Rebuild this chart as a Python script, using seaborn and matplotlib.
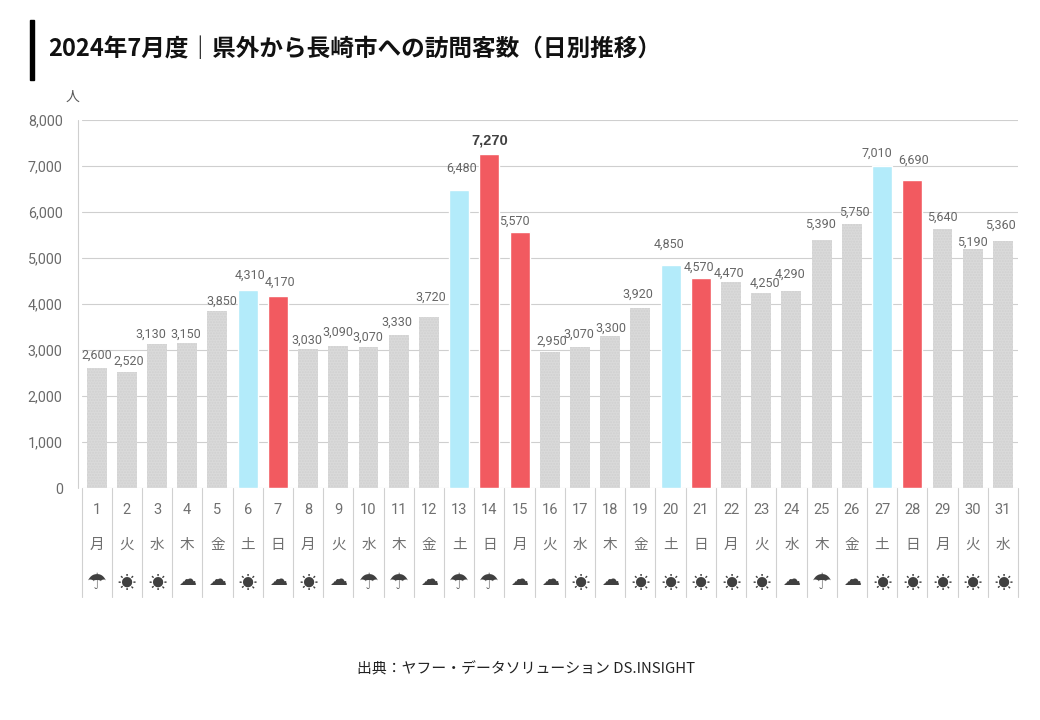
import matplotlib
matplotlib.use("Agg")
import matplotlib.pyplot as plt
import pandas as pd
import seaborn as sns

days = list(range(1, 32))
visitors = [2600, 2520, 3130, 3150, 3850, 4310, 4170, 3030, 3090, 3070, 3330, 3720, 6480, 7270, 5570, 2950,
            3070, 3300, 3920, 4850, 4570, 4470, 4250, 4290, 5390, 5750, 7010, 6690, 5640, 5190, 5360]
weekdays = ["月", "火", "水", "木", "金", "土", "日"] * 4 + ["月", "火", "水"]
# r = rain, s = sun, c = cloud
weather = list("rsscc" "scscr" "rcrrc" "csc" "sss" "sscrcs" "ssss")
day_type = ["土" if w == "土" else "日" if w == "日" else "平日" for w in weekdays]
day_type[14] = "日"  # 海の日

palette = {"平日": "#dadada", "土": "#b3ebfa", "日": "#f25a60"}
icons = {"r": "☂", "s": "☀", "c": "☁"}
icon_font = {"r": "DejaVu Sans", "s": "Noto Sans CJK JP", "c": "DejaVu Sans"}
icon_size = {"r": 16, "s": 13, "c": 13}
icon_y = {"r": -95 / 368, "s": -96 / 368, "c": -92 / 368}

# labels were moved by hand in the source chart, offsets from the bar top in pixels
label_dx = [0, 2, -6, -1, 4, 2, 2.5, -1, 0, -1, -2, 1.5, 3, 0.5, -5, 2, -1, 1, -3, -2, -2, -2, 3.5, -1.5,
            -1, 3, -5, 1.5, 0, 0, -2]
label_dy = [13.5, 11, 10, 9, 10, 14.5, 14, 8.5, 13.5, 10, 13, 20, 22, 13, 11, 11.5, 12.5, 8, 13.5, 20.5,
            11, 9, 9, 16.5, 16, 11.5, 12, 20, 11.5, 7, 16]

sns.set_theme(style="white")
plt.rcParams["font.family"] = ["Noto Sans CJK JP", "DejaVu Sans"]

df = pd.DataFrame({"day": days, "visitors": visitors, "type": day_type})

fig = plt.figure(figsize=(10.4, 7.2), dpi=100)
ax = fig.add_axes([81.5 / 1040, 1 - 488 / 720, 936.5 / 1040, 368 / 720])
sns.barplot(data=df, x="day", y="visitors", hue="type", palette=palette, dodge=False,
            width=0.66, legend=False, ax=ax, saturation=1)

# grey bars have a fine dotted fill
for bar in ax.containers[0]:
    bar.set_hatch("......")
    bar.set_edgecolor("#d0d0d0")
    bar.set_linewidth(0)

ax.set_xlim(-0.5, 30.5)
ax.set_ylim(0, 8000)
ax.set_yticks(range(0, 8001, 1000))
ax.set_yticklabels([f"{v:,}" for v in range(0, 8001, 1000)], fontsize=10.3, color="#6a6a6a",
                   family="Roboto", va="center_baseline")
ax.tick_params(axis="y", length=0, pad=13.5)
ax.set_xticks([])
ax.set_xlabel("")
ax.set_ylabel("")
ax.grid(axis="y", color="#cfcfcf", lw=0.8)
ax.set_axisbelow(True)
for s in ax.spines.values():
    s.set_visible(False)

# value labels
for i, v in enumerate(visitors):
    big = days[i] == 14
    ax.annotate(f"{v:,}", (i, v), xytext=(label_dx[i], label_dy[i]), textcoords="offset pixels",
                ha="center", va="center", fontsize=10.5 if big else 9,
                fontweight="bold" if big else "normal", color="#404040" if big else "#666666",
                family="Liberation Sans" if big else "Roboto")

# table under the axis
tr = ax.get_xaxis_transform()
for i in range(32):
    ax.plot([i - 0.5, i - 0.5], [0, -109 / 368], transform=tr, color="#d0d0d0", lw=0.8, clip_on=False)
for i in range(31):
    ax.text(i, -22 / 368, str(days[i]), transform=tr, ha="center", va="center", fontsize=10.5,
            color="#707070", family="Roboto")
    ax.text(i, -57 / 368, weekdays[i], transform=tr, ha="center", va="center", fontsize=10.5, color="#6f6f6f")
    w = weather[i]
    ax.text(i, icon_y[w], icons[w], transform=tr, ha="center", va="center", fontsize=icon_size[w],
            color="#404040", family=icon_font[w])

# y axis line, stands a little apart from the grid
fig.add_artist(plt.Line2D([78 / 1040, 78 / 1040], [1 - 120 / 720, 1 - 488 / 720], color="#cfcfcf", lw=0.8))

# header
fig.add_artist(plt.Rectangle((30 / 1040, 1 - 80 / 720), 4 / 1040, 60 / 720, color="black"))
fig.text(48 / 1040, 1 - 49 / 720, "2024年7月度｜県外から長崎市への訪問客数（日別推移）", fontsize=17,
         fontweight="bold", color="#111111", va="center", ha="left")
fig.text(72 / 1040, 1 - 97 / 720, "人", fontsize=10, color="#595959", ha="center", va="center")
fig.text(526.5 / 1040, 1 - 669 / 720, "出典：ヤフー・データソリューション DS.INSIGHT", fontsize=10.7, color="#222222",
         ha="center", va="center")

fig.savefig("out.png", dpi=100)
